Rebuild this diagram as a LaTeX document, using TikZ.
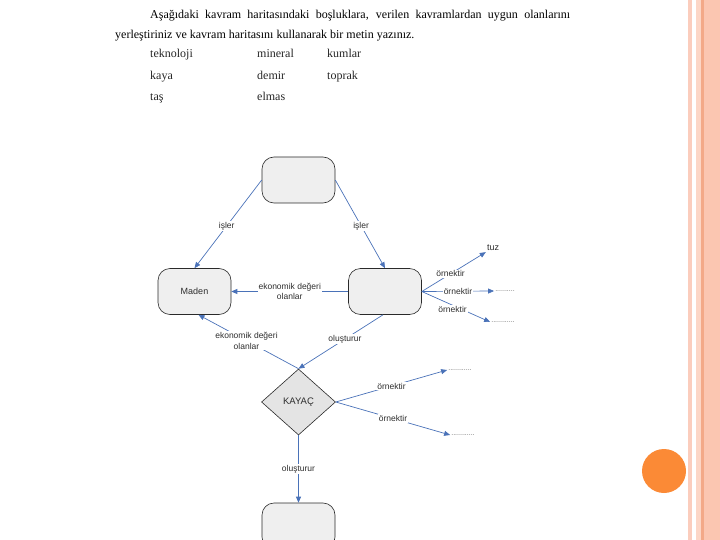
\documentclass[tikz,border=0pt]{standalone}
\usepackage{fontspec}
\setmainfont{Liberation Serif}
\setsansfont{Liberation Sans}
\usetikzlibrary{arrows.meta, shapes.geometric, positioning}
\definecolor{linkblue}{HTML}{4A72B8}
\definecolor{boxfill}{HTML}{EFEFEF}
\definecolor{rockfill}{HTML}{E4E4E4}
\definecolor{boxline}{HTML}{2A2A2A}
\definecolor{labelgray}{HTML}{2E2E2E}
\definecolor{barpink}{HTML}{FBCDBD}
\definecolor{bandlight}{HTML}{FCD6C6}
\definecolor{bandmid}{HTML}{FBC6B1}
\definecolor{bandline}{HTML}{F3A988}
\definecolor{dotorange}{HTML}{FB8A36}
\tikzset{
  concept/.style={draw=boxline, fill=boxfill, rounded corners=12pt, line width=0.6pt,
    minimum width=73pt, minimum height=46pt, font=\sffamily\fontsize{9}{10}\selectfont, text=labelgray},
  rockbox/.style={diamond, draw=boxline, fill=rockfill, line width=0.6pt, inner sep=0pt,
    minimum width=74pt, minimum height=66pt, font=\sffamily\fontsize{9.5}{10}\selectfont, text=labelgray},
  link/.style={draw=linkblue, line width=0.7pt, -{Triangle[length=6pt,width=5pt]}},
  lbl/.style={fill=white, inner sep=1pt, font=\sffamily\fontsize{8.5}{10.5}\selectfont, text=labelgray, align=center},
  blank/.style={inner sep=1pt, font=\sffamily\fontsize{7}{8}\selectfont, text=black!60},
  wordlist/.style={anchor=base west, inner sep=0pt, font=\fontsize{12}{14}\selectfont, text=black!85}
}

\begin{document}
\begin{tikzpicture}[x=1pt, y=-1pt]
\useasboundingbox (0,0) rectangle (720,540);
\clip (0,0) rectangle (720,540);

% Slide decoration
\fill[barpink] (688,0) rectangle (692,540);
\fill[bandlight] (696,0) rectangle (701,540);
\fill[bandline] (701,0) rectangle (703.5,540);
\fill[bandmid] (703.5,0) rectangle (720,540);
\fill[dotorange] (664,471) circle (22);

% Question text
\node[anchor=base west, inner sep=0pt, font=\fontsize{12}{14}\selectfont] (q1) at (150,19)
  {\makebox[420pt][s]{Aşağıdaki kavram haritasındaki boşluklara, verilen kavramlardan uygun olanlarını}};
\node[anchor=base west, inner sep=0pt, font=\fontsize{12}{14}\selectfont] (q2) at (115,39)
  {yerleştiriniz ve kavram haritasını kullanarak bir metin yazınız.};

% Word list
\node[wordlist] (w1) at (150,58) {teknoloji};
\node[wordlist] (w2) at (257,58) {mineral};
\node[wordlist] (w3) at (327,58) {kumlar};
\node[wordlist] (w4) at (150,80) {kaya};
\node[wordlist] (w5) at (257,80) {demir};
\node[wordlist] (w6) at (327,80) {toprak};
\node[wordlist] (w7) at (150,101) {taş};
\node[wordlist] (w8) at (257,101) {elmas};

% Concept boxes
\node[concept] (bos1) at (298.5,180) {};
\node[concept] (maden) at (194.5,291.5) {Maden};
\node[concept] (bos2) at (385,291.5) {};
\node[rockbox] (kayac) at (298.5,402) {KAYAÇ};
\node[concept] (bos3) at (298.5,526) {};

% Blanks and examples
\node[blank, font=\sffamily\fontsize{9}{10}\selectfont, text=labelgray] (tuz) at (493,248) {tuz};
\node[blank] (ornek1) at (505,291) {..........};
\node[blank] (ornek2) at (503,322) {............};
\node[blank] (ornek3) at (460,370) {............};
\node[blank] (ornek4) at (463,435) {............};

% Links
\draw[link] (bos1.west) -- node[lbl, pos=0.52] {işler} (maden.north);
\draw[link] (bos1.east) -- node[lbl, pos=0.52] {işler} (bos2.north);
\draw[link] (bos2.west) -- node[lbl] {ekonomik değeri\\olanlar} (maden.east);
\draw[link] (kayac.north) -- node[lbl, pos=0.52] {ekonomik değeri\\olanlar} ([xshift=4pt]maden.south);
\draw[link] ([xshift=-2pt]bos2.south) -- node[lbl, pos=0.45] {oluşturur} (kayac.north);
\draw[link] (kayac.south) -- node[lbl, pos=0.5] {oluşturur} (bos3.north);

\draw[link] (bos2.east) -- node[lbl, pos=0.45] {örnektir} (tuz.south west);
\draw[link] (bos2.east) -- node[lbl, pos=0.5] {örnektir} (ornek1.west);
\draw[link] (bos2.east) -- node[lbl, pos=0.45, yshift=-4pt] {örnektir} (ornek2.west);
\draw[link] (kayac.east) -- node[lbl, pos=0.5] {örnektir} (ornek3.west);
\draw[link] (kayac.east) -- node[lbl, pos=0.5] {örnektir} (ornek4.west);

\end{tikzpicture}
\end{document}
